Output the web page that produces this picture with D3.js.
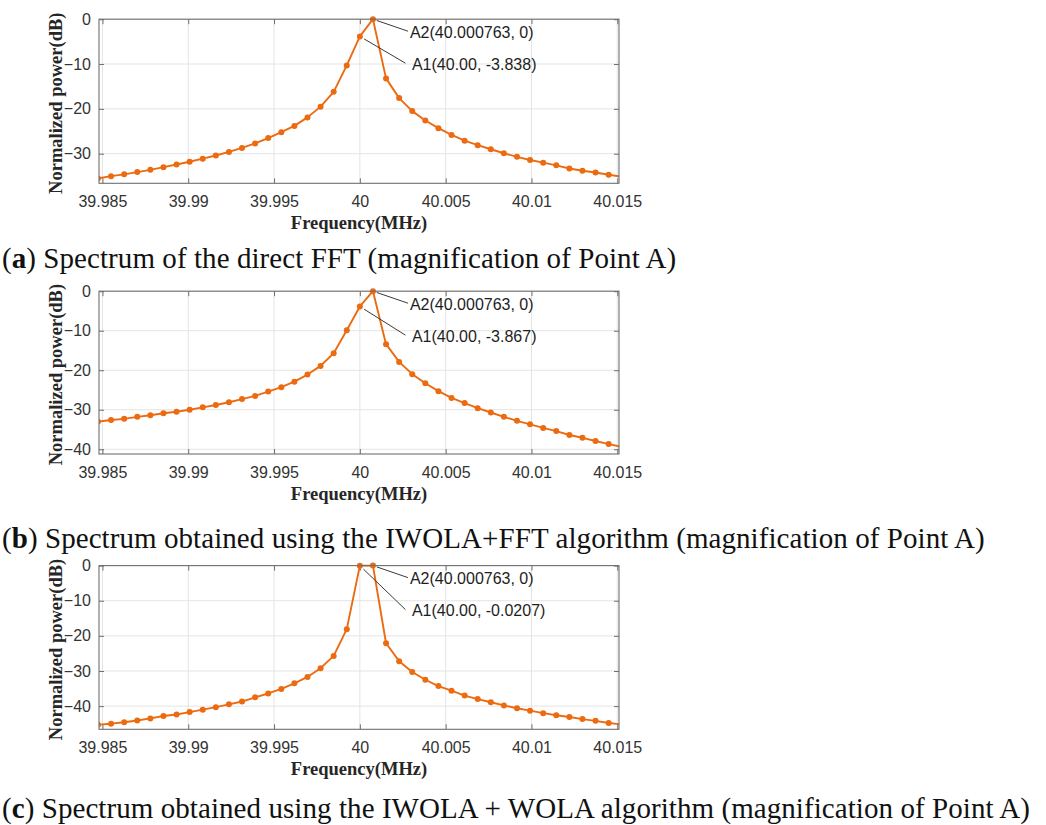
<!DOCTYPE html>
<html>
<head>
<meta charset="utf-8">
<script src="https://cdn.jsdelivr.net/npm/d3@7"></script>
<style>
  body { margin: 0; background: #fff; }
  svg { display: block; }
</style>
</head>
<body>
<svg id="fig" width="1046" height="825"></svg>
<script>
// FFT bin centre frequencies (MHz), bin spacing 763 Hz
const frequencies = [
  39.984740, 39.985503, 39.986266, 39.987029, 39.987792, 39.988555, 39.989318,
  39.990081, 39.990844, 39.991607, 39.992370, 39.993133, 39.993896, 39.994659,
  39.995422, 39.996185, 39.996948, 39.997711, 39.998474, 39.999237, 40.000000,
  40.000763, 40.001526, 40.002289, 40.003052, 40.003815, 40.004578, 40.005341,
  40.006104, 40.006867, 40.007630, 40.008393, 40.009156, 40.009919, 40.010682,
  40.011445, 40.012208, 40.012971, 40.013734, 40.014497, 40.015260
];

// Normalized power (dB) — direct FFT
const powerDirectFFT = [
  -35.5, -35.0, -34.6, -34.1, -33.6, -33.0, -32.4, -31.8, -31.1, -30.4,
  -29.6, -28.7, -27.7, -26.5, -25.2, -23.8, -21.9, -19.5, -16.2, -10.3,
  -3.838, 0,
  -13.2, -17.6, -20.5, -22.6, -24.3, -25.8, -27.1, -28.1, -29.0, -29.9,
  -30.7, -31.4, -32.0, -32.6, -33.3, -33.8, -34.2, -34.7, -35.1
];

// Normalized power (dB) — IWOLA + FFT
const powerIwolaFFT = [
  -33.0, -32.6, -32.3, -31.8, -31.4, -30.9, -30.5, -30.0, -29.4, -28.8,
  -28.1, -27.3, -26.5, -25.4, -24.3, -22.9, -21.1, -18.9, -15.7, -9.9,
  -3.867, 0,
  -13.4, -17.9, -21.0, -23.3, -25.3, -27.0, -28.3, -29.6, -30.7, -31.8,
  -32.8, -33.7, -34.6, -35.4, -36.4, -37.1, -37.9, -38.7, -39.4
];

// Normalized power (dB) — IWOLA + WOLA
const powerIwolaWOLA = [
  -45.3, -45.0, -44.6, -44.1, -43.5, -42.8, -42.4, -41.7, -41.0, -40.3,
  -39.5, -38.7, -37.5, -36.4, -35.1, -33.5, -31.7, -29.2, -25.7, -18.1,
  -0.0207, 0,
  -22.1, -27.2, -30.3, -32.5, -34.3, -35.6, -37.0, -38.0, -38.9, -39.8,
  -40.6, -41.3, -42.0, -42.6, -43.1, -43.7, -44.2, -44.8, -45.2
];

const xTicks = [39.985, 39.99, 39.995, 40, 40.005, 40.01, 40.015];
const xTickLabels = ["39.985", "39.99", "39.995", "40", "40.005", "40.01", "40.015"];
const xLimits = [39.98480, 40.01510];

const yTicksA = [0, -10, -20, -30];
const yTicksB = [0, -10, -20, -30, -40];
const yTicksC = [0, -10, -20, -30, -40];
const yFloors = [-36.6, -41.2, -46.6];

const peakIndexA1 = 20;
const peakIndexA2 = 21;
const labelsA2 = ["A2(40.000763, 0)", "A2(40.000763, 0)", "A2(40.000763, 0)"];
const labelsA1 = ["A1(40.00, -3.838)", "A1(40.00, -3.867)", "A1(40.00, -0.0207)"];

const captionLetters = ["a", "b", "c"];
const captionTexts = [
  " Spectrum of the direct FFT (magnification of Point A)",
  " Spectrum obtained using the IWOLA+FFT algorithm (magnification of Point A)",
  " Spectrum obtained using the IWOLA + WOLA algorithm (magnification of Point A)"
];

const xTitle = "Frequency(MHz)";
const yTitle = "Normalized power(dB)";

// ---------------------------------------------------------------------------
const series = [powerDirectFFT, powerIwolaFFT, powerIwolaWOLA];
const yTickSets = [yTicksA, yTicksB, yTicksC];

// panel frames (px)
const frames = [
  { top: 19.2,  bottom: 183.3, caption: 268 },
  { top: 291.2, bottom: 454.0, caption: 548 },
  { top: 565.6, bottom: 729.3, caption: 818 }
];
const plotLeft = 99, plotRight = 619;
const longestCaptionEnd = 1030;   // right edge of the widest caption line

const ORANGE = "#EC6A10";
const BOX = "#6f6f6f";
const GRID = "#e4e4e4";
const TICK_TEXT = "#333333";
const SANS = "'Liberation Sans', Arial, sans-serif";
const SERIF = "'Liberation Serif', 'Times New Roman', serif";

const svg = d3.select("#fig");
const captionNodes = [];

frames.forEach((f, i) => {
  const values = series[i];
  const pts = frequencies.map((fr, k) => ({ f: fr, p: values[k] }));

  const x = d3.scaleLinear().domain(xLimits).range([plotLeft, plotRight]);
  const y = d3.scaleLinear().domain([yFloors[i], 0]).range([f.bottom, f.top]);
  const yTicks = yTickSets[i];

  const g = svg.append("g");

  const clipId = "clip-" + captionLetters[i];
  svg.append("defs").append("clipPath").attr("id", clipId)
    .append("rect")
    .attr("x", plotLeft).attr("y", f.top - 4)
    .attr("width", plotRight - plotLeft).attr("height", f.bottom - f.top + 4);

  // grid
  g.append("g").selectAll("line").data(xTicks).join("line")
    .attr("x1", d => x(d)).attr("x2", d => x(d))
    .attr("y1", f.top).attr("y2", f.bottom)
    .attr("stroke", GRID).attr("stroke-width", 1);
  g.append("g").selectAll("line").data(yTicks).join("line")
    .attr("x1", plotLeft).attr("x2", plotRight)
    .attr("y1", d => y(d)).attr("y2", d => y(d))
    .attr("stroke", GRID).attr("stroke-width", 1);

  // axes: inward ticks with labels outside
  const axB = d3.axisBottom(x).tickValues(xTicks)
    .tickFormat((d, k) => xTickLabels[k]).tickSizeInner(-5).tickSizeOuter(0).tickPadding(12.5);
  const axT = d3.axisTop(x).tickValues(xTicks).tickFormat("").tickSizeInner(-5).tickSizeOuter(0);
  const axL = d3.axisLeft(y).tickValues(yTicks).tickFormat(d3.format("d"))
    .tickSizeInner(-5).tickSizeOuter(0).tickPadding(8);
  const axR = d3.axisRight(y).tickValues(yTicks).tickFormat("").tickSizeInner(-5).tickSizeOuter(0);

  [[axB, `translate(0,${f.bottom})`], [axT, `translate(0,${f.top})`],
   [axL, `translate(${plotLeft},0)`], [axR, `translate(${plotRight},0)`]].forEach(([ax, tr]) => {
    const a = g.append("g").attr("transform", tr).call(ax);
    a.select(".domain").remove();
    a.selectAll(".tick line").attr("stroke", BOX).attr("stroke-width", 1);
    a.selectAll(".tick text").attr("font-family", SANS).attr("font-size", 16)
      .attr("fill", TICK_TEXT);
  });

  // data line and markers
  const plot = g.append("g").attr("clip-path", `url(#${clipId})`);
  plot.append("path").datum(pts)
    .attr("d", d3.line().x(d => x(d.f)).y(d => y(d.p)))
    .attr("fill", "none").attr("stroke", ORANGE).attr("stroke-width", 1.9)
    .attr("stroke-linejoin", "round");
  plot.selectAll("circle").data(pts).join("circle")
    .attr("cx", d => x(d.f)).attr("cy", d => y(d.p)).attr("r", 3)
    .attr("fill", ORANGE);

  // box
  g.append("rect")
    .attr("x", plotLeft).attr("y", f.top)
    .attr("width", plotRight - plotLeft).attr("height", f.bottom - f.top)
    .attr("fill", "none").attr("stroke", BOX).attr("stroke-width", 1.1);

  // peak annotations
  const a2 = pts[peakIndexA2], a1 = pts[peakIndexA1];
  const a2x = x(a2.f), a2y = y(a2.p), a1x = x(a1.f), a1y = y(a1.p);
  const notes = [
    { text: labelsA2[i], px: a2x, py: a2y, tx: a2x + 37, ty: a2y + 13, gap: 2, lead: 4 },
    { text: labelsA1[i], px: a1x, py: a1y, tx: a2x + 39, ty: a2y + 45, gap: 6.5, lead: 5 }
  ];
  notes.forEach(n => {
    const ex = n.tx - n.gap, ey = n.ty - 1;
    const dx = ex - n.px, dy = ey - n.py, len = Math.hypot(dx, dy);
    g.append("line")
      .attr("x1", n.px + dx / len * n.lead).attr("y1", n.py + dy / len * n.lead)
      .attr("x2", ex).attr("y2", ey)
      .attr("stroke", "#3a3a3a").attr("stroke-width", 1);
    g.append("text")
      .attr("x", n.tx).attr("y", n.ty + 5.6)
      .attr("font-family", SANS).attr("font-size", 16).attr("fill", "#1e1e1e")
      .text(n.text);
  });

  // axis titles
  g.append("text")
    .attr("x", (plotLeft + plotRight) / 2).attr("y", f.bottom + 40)
    .attr("text-anchor", "middle").attr("dominant-baseline", "central")
    .attr("font-family", SERIF).attr("font-weight", "bold").attr("font-size", 18.5)
    .attr("fill", "#262626").text(xTitle);
  g.append("text")
    .attr("transform", `translate(56,${(f.top + f.bottom) / 2 + 2}) rotate(-90)`)
    .attr("text-anchor", "middle").attr("dominant-baseline", "central")
    .attr("font-family", SERIF).attr("font-weight", "bold").attr("font-size", 18.5)
    .attr("fill", "#262626").text(yTitle);

  // sub-figure caption
  const cap = svg.append("text")
    .attr("x", 2).attr("y", f.caption)
    .attr("font-family", SERIF).attr("font-size", 29).attr("fill", "#111");
  cap.append("tspan").text("(");
  cap.append("tspan").attr("font-weight", "bold").text(captionLetters[i]);
  cap.append("tspan").text(")" + captionTexts[i]);
  captionNodes.push({ sel: cap, chars: 2 + captionLetters[i].length + captionTexts[i].length });
});

// one shared letter-spacing for all captions, set by the widest line
const widest = captionNodes[captionNodes.length - 1];
const natural = widest.sel.node().getComputedTextLength();
const spacing = Math.max(0, (longestCaptionEnd - 2 - natural) / (widest.chars - 1));
captionNodes.forEach(c => c.sel.attr("letter-spacing", spacing));
</script>
</body>
</html>
